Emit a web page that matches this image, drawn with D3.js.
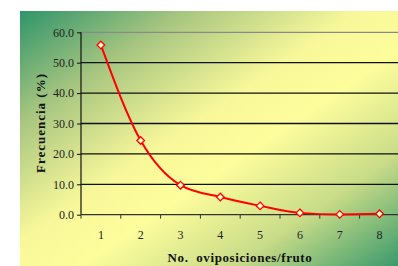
<!DOCTYPE html>
<html><head><meta charset="utf-8">
<script src="https://cdn.jsdelivr.net/npm/d3@7"></script>
<style>body{margin:0;background:#fff}svg{display:block}</style>
</head><body>
<script>
const categories = ["1","2","3","4","5","6","7","8"];
const frecuencia = [55.8, 24.4, 9.7, 5.8, 2.9, 0.6, 0.1, 0.3];
const yTicks = [0,10,20,30,40,50,60];

const W = 398, H = 266;
const svg = d3.select("body").append("svg").attr("width", W).attr("height", H);
const defs = svg.append("defs");
const g = defs.append("linearGradient").attr("id","bg").attr("x1","0").attr("y1","0").attr("x2","1").attr("y2","1");
g.append("stop").attr("offset","0%").attr("stop-color","#2f946a");
g.append("stop").attr("offset","22%").attr("stop-color","#a8c680");
g.append("stop").attr("offset","45%").attr("stop-color","#f8f89a");
g.append("stop").attr("offset","58%").attr("stop-color","#fdfd9c");
g.append("stop").attr("offset","78%").attr("stop-color","#c9dc88");
g.append("stop").attr("offset","100%").attr("stop-color","#3a9a6c");
svg.append("rect").attr("x",20).attr("y",11).attr("width",W-20).attr("height",H-11).attr("fill","url(#bg)");

const x = d3.scaleBand().domain(categories).range([81, 399.4]);
const y = d3.scaleLinear().domain([0,60]).range([214.7, 32.3]);

// gridlines
svg.append("g").selectAll("line").data(yTicks.filter(d=>d>0)).join("line")
  .attr("x1",81).attr("x2",W).attr("y1",d=>y(d)).attr("y2",d=>y(d))
  .attr("stroke",d=>d===60?"#8a8a8a":"#111").attr("stroke-width",1.3);

// y axis
const yAxis = d3.axisLeft(y).tickValues(yTicks).tickFormat(d3.format(".1f")).tickSize(4).tickPadding(3);
const ya = svg.append("g").attr("transform","translate(81,0)").call(yAxis);
ya.select(".domain").attr("stroke","#111").attr("stroke-width",1.2).attr("d","M0,"+y(60)+"V"+y(0));
ya.selectAll(".tick line").attr("stroke","#111");
ya.selectAll("text").attr("font-family","Liberation Serif").attr("font-size",12).attr("fill","#222");

// x axis
const xa = svg.append("g").attr("transform","translate(0,"+y(0)+")");
xa.append("line").attr("x1",81).attr("x2",W).attr("stroke","#333").attr("stroke-width",1.3);
xa.selectAll(".tk").data(d3.range(categories.length)).join("line").attr("class","tk")
  .attr("x1",i=>x(categories[i])).attr("x2",i=>x(categories[i])).attr("y1",0).attr("y2",4)
  .attr("stroke","#333");
xa.selectAll(".lb").data(categories).join("text").attr("class","lb")
  .attr("x",d=>x(d)+x.bandwidth()/2).attr("y",24).attr("text-anchor","middle")
  .attr("font-family","Liberation Serif").attr("font-size",12).attr("fill","#222").text(d=>d);

// line
const pts = categories.map((c,i)=>[x(c)+x.bandwidth()/2, y(frecuencia[i])]);
svg.append("path").attr("d", d3.line().curve(d3.curveMonotoneX)(pts))
  .attr("fill","none").attr("stroke","#f00").attr("stroke-width",2);
svg.append("g").selectAll("path").data(pts).join("path")
  .attr("transform",d=>`translate(${d[0]},${d[1]})`)
  .attr("d","M0,-3.8L3.8,0L0,3.8L-3.8,0Z")
  .attr("fill","#ffffd0").attr("stroke","#f00").attr("stroke-width",1.3);

// titles
svg.append("text").attr("transform","translate(45,123) rotate(-90)").attr("text-anchor","middle")
  .attr("font-family","Liberation Serif").attr("font-weight","bold").attr("font-size",13)
  .attr("letter-spacing",1).attr("fill","#111").text("Frecuencia (%)");
svg.append("text").attr("x",240).attr("y",262).attr("text-anchor","middle")
  .attr("font-family","Liberation Serif").attr("font-weight","bold").attr("font-size",13)
  .attr("letter-spacing",0.6).attr("fill","#111").attr("xml:space","preserve").text("No.  oviposiciones/fruto");
</script>
</body></html>
